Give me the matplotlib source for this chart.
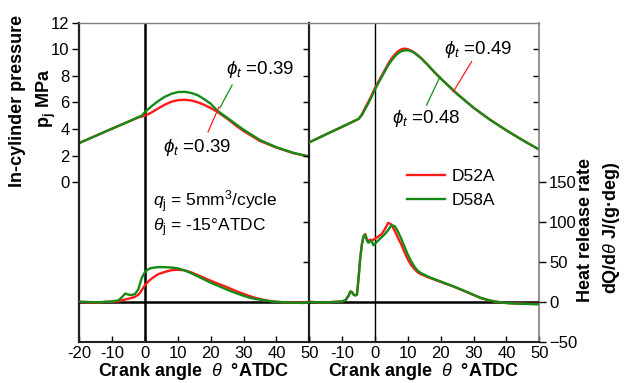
import matplotlib
matplotlib.use('Agg')
import matplotlib.pyplot as plt

plt.rcParams['font.family'] = ['Liberation Sans', 'DejaVu Sans']
plt.rcParams['mathtext.fontset'] = 'custom'
plt.rcParams['mathtext.rm'] = 'Liberation Sans'
plt.rcParams['mathtext.it'] = 'Liberation Sans:italic'
plt.rcParams['mathtext.bf'] = 'Liberation Sans:bold'

# ---------------- data ----------------
# In-cylinder pressure (MPa), left panel (phi_t = 0.39 both)
theta_pL = [-20, -15, -10, -5, -2, -1, 0, 2, 4, 6, 8, 10, 12, 14, 16, 18, 20, 22,
            25, 28, 30, 35, 40, 45, 50]
pL_D52A = [2.95, 3.49, 4.03, 4.56, 4.88, 4.94, 5.0, 5.25, 5.55, 5.83, 6.05, 6.17, 6.2,
           6.15, 6.02, 5.82, 5.58, 5.3, 4.78, 4.2, 3.85, 3.1, 2.6, 2.2, 1.92]
pL_D58A = [2.95, 3.49, 4.03, 4.56, 4.9, 5.0, 5.28, 5.72, 6.1, 6.42, 6.65, 6.78, 6.8,
           6.72, 6.55, 6.25, 5.9, 5.38, 4.85, 4.3, 3.95, 3.17, 2.63, 2.22, 1.92]

# In-cylinder pressure (MPa), right panel
theta_pR = [-20, -15, -10, -5, -4, -3, -2, -1, 0, 1, 2, 3, 4, 5, 6, 7, 8, 9, 10, 11,
            12, 14, 16, 18, 20, 25, 30, 35, 40, 45, 50]
pR_D52A = [3.0, 3.59, 4.17, 4.76, 5.1, 5.6, 6.05, 6.55, 7.1, 7.55, 8.0, 8.45, 8.9, 9.3,
           9.6, 9.85, 10.0, 10.05, 10.0, 9.9, 9.75, 9.35, 8.85, 8.3, 7.8, 6.65, 5.6,
           4.7, 3.9, 3.15, 2.45]
pR_D58A = [3.0, 3.59, 4.17, 4.76, 5.05, 5.5, 5.95, 6.45, 6.98, 7.45, 7.9, 8.35, 8.78,
           9.15, 9.45, 9.7, 9.85, 9.92, 9.92, 9.85, 9.72, 9.33, 8.83, 8.3, 7.8, 6.63,
           5.6, 4.7, 3.9, 3.15, 2.45]

# Heat release rate J/(g.deg), left panel
theta_hL = [-20, -18, -16, -14, -12, -10, -8, -7, -6, -5, -4, -3, -2, -1.5, -1, 0, 1, 2,
            3, 4, 6, 8, 10, 12, 14, 16, 18, 20, 22, 24, 26, 28, 30, 32, 34, 36, 38, 40,
            42, 44, 46, 48, 50]
hL_D52A = [0, -0.5, -1, -1, 0, 0, 0.5, 2, 3, 4, 5, 6.3, 9, 11.5, 14.6, 21, 25.5, 29,
           32, 34.6, 37.5, 39.6, 40.2, 39.5, 37, 33.5, 30, 26.5, 23, 20, 16.5, 13, 10,
           7, 4.5, 2.5, 1, 0, -0.5, -1, -1, -1, -0.5]
hL_D58A = [0, 0, -0.5, -0.5, 0, 0.5, 2, 6, 10.4, 9, 8.5, 10, 16, 23, 30, 37.5, 41,
           42.5, 43, 43.5, 43.5, 43, 42, 39.5, 36, 32, 28, 24, 20.5, 17, 13.5, 10.5, 7.5,
           5, 3.3, 2, 0.8, 0, -0.5, -1, -1, -1.5, -1]

# Heat release rate J/(g.deg), right panel
theta_hR = [-20, -18, -16, -14, -12, -10, -9, -8, -7.5, -7, -6.5, -6, -5.5, -5, -4.5,
            -4, -3.5, -3, -2.5, -2, -1.5, -1, -0.5, 0, 1, 2, 3, 4, 5, 6, 7, 8, 9, 10,
            11, 12, 13, 14, 16, 18, 20, 22, 24, 26, 28, 30, 32, 34, 36, 38, 40, 42, 44,
            46, 48, 50]
hR_D52A = [0, -0.5, -1, -0.5, 0, 0.5, 2, 8, 13, 12, 9, 8, 9, 30, 55, 72, 82, 85, 79,
           75, 78, 77, 78, 79, 82, 85, 91, 99, 97, 89, 80, 72, 62, 53, 46, 41, 37, 34.5,
           31, 28, 25, 22, 19, 15.5, 12, 8.5, 5, 2.5, 0.5, -0.5, -1.5, -2, -2, -2.5,
           -2.5, -2.5]
hR_D58A = [0, -0.5, -1, -0.5, 0, 0.5, 2, 8, 13, 12, 9, 8, 9, 30, 55, 72, 82, 84, 77,
           74, 76, 76, 71, 73, 77, 81, 85, 90, 96, 95, 88, 79, 69, 59, 51, 44, 39, 36,
           32, 28.5, 25.5, 22.3, 19.2, 15.8, 12.3, 8.8, 5.3, 2.8, 0.8, -0.5, -1.5, -2,
           -2.5, -2.5, -3, -3]

x_ticks = [-20, -10, 0, 10, 20, 30, 40, 50]
xlabL = ['-20', '-10', '0', '10', '20', '30', '40', '50']
xlabR = ['', '-10', '0', '10', '20', '30', '40', '50']
p_ticks = [0, 2, 4, 6, 8, 10, 12]
hr_ticks = [-50, 0, 50, 100, 150]
series = ['D52A', 'D58A']
colors = {'D52A': '#ff1a1a', 'D58A': '#168a16'}

# ---------------- figure ----------------
W, H = 628, 383
fig = plt.figure(figsize=(W / 100, H / 100), dpi=100)


def box(x0, y0, x1, y1):
    return [x0 / W, 1 - y1 / H, (x1 - x0) / W, (y1 - y0) / H]


axL = fig.add_axes(box(79.3, 22.7, 309.3, 341.7))
axR = fig.add_axes(box(309.3, 22.7, 539.3, 341.7))
TS = 12
dark = '#222222'
grey = '#808080'

for ax, lab in ((axL, xlabL), (axR, xlabR)):
    ax.set_xlim(-20, 50)
    ax.set_ylim(-12, 12)
    ax.set_xticks(x_ticks)
    ax.set_xticklabels(lab)
    ax.tick_params(axis='x', direction='in', length=4, width=1, labelsize=TS, pad=3,
                   top=False)
    ax.patch.set_visible(False)

lw = 1.7
# pressure curves
axL.plot(theta_pL, pL_D52A, color=colors['D52A'], lw=lw)
axL.plot(theta_pL, pL_D58A, color=colors['D58A'], lw=lw)
axR.plot(theta_pR, pR_D52A, color=colors['D52A'], lw=lw, label=series[0])
axR.plot(theta_pR, pR_D58A, color=colors['D58A'], lw=lw, label=series[1])

# heat release twins
hrL = axL.twinx()
hrR = axR.twinx()
for h in (hrL, hrR):
    h.set_ylim(-50, 350)
    for s in h.spines.values():
        s.set_visible(False)
    h.axhline(0, color='black', lw=1.8, zorder=1)
hrL.plot(theta_hL, hL_D52A, color=colors['D52A'], lw=lw)
hrL.plot(theta_hL, hL_D58A, color=colors['D58A'], lw=lw)
hrR.plot(theta_hR, hR_D52A, color=colors['D52A'], lw=lw)
hrR.plot(theta_hR, hR_D58A, color=colors['D58A'], lw=lw)

# vertical zero lines
axL.axvline(0, color='black', lw=1.8, zorder=1)
axR.axvline(0, color='black', lw=1.0, zorder=1)

# left panel y ticks
axL.set_yticks(p_ticks)
axL.tick_params(axis='y', direction='out', length=5, width=1, labelsize=TS, pad=2,
                right=False)
pL2 = axL.twinx()
pL2.set_ylim(-12, 12)
pL2.set_yticks([0, 2, 4, 6, 8, 10])
pL2.tick_params(axis='y', direction='in', length=4, width=1, labelright=False)
for s in pL2.spines.values():
    s.set_visible(False)
hrL.set_yticks([50, 100])
hrL.tick_params(axis='y', direction='in', length=4, width=1, labelright=False)

# right panel ticks
axR.yaxis.tick_right()
axR.set_yticks([2, 4, 6, 8, 10])
axR.tick_params(axis='y', direction='in', length=4, width=1, labelright=False,
                left=False, labelleft=False)
hrR.set_yticks(hr_ticks)
hrR.tick_params(axis='y', direction='out', length=5, width=1, labelsize=TS, pad=2)

# spines
for ax in (axL, axR):
    ax.spines['top'].set_color(grey)
    ax.spines['top'].set_linewidth(1.0)
    ax.spines['bottom'].set_color(dark)
    ax.spines['bottom'].set_linewidth(1.5)
axL.spines['left'].set_color(dark)
axL.spines['left'].set_linewidth(1.6)
axL.spines['right'].set_color(dark)
axL.spines['right'].set_linewidth(1.6)
axR.spines['left'].set_visible(False)
axR.spines['right'].set_color(grey)
axR.spines['right'].set_linewidth(1.2)

# annotations (left panel)
axL.text(35, 8.5, r'$\phi_t$ =0.39', color='black', fontsize=13.5, ha='center',
         va='center')
axL.plot([26.5, 22.8], [7.3, 5.6], color=colors['D58A'], lw=0.9)
axL.text(16, 2.6, r'$\phi_t$ =0.39', color='black', fontsize=13.5, ha='center',
         va='center')
axL.plot([19.2, 22.5], [3.8, 5.65], color=colors['D52A'], lw=0.9)
axL.text(2.4, -1.45, r'$q_{\rm j}$ = 5mm$^3$/cycle', fontsize=12.5, ha='left',
         va='center')
axL.text(2.4, -3.4, r'$\theta_{\rm j}$ = -15°ATDC', fontsize=12.5, ha='left',
         va='center')

# annotations (right panel)
axR.text(31.4, 9.95, r'$\phi_t$ =0.49', color='black', fontsize=13.5, ha='center',
         va='center')
axR.plot([29.4, 23.8], [9.07, 6.8], color=colors['D52A'], lw=0.9)
axR.text(15.7, 4.8, r'$\phi_t$ =0.48', color='black', fontsize=13.5, ha='center',
         va='center')
axR.plot([15.7, 19.8], [5.8, 7.95], color=colors['D58A'], lw=0.9)

axR.legend(loc='upper left', bbox_to_anchor=((398 - 309.3) / 230, (341.7 - 160) / 319),
           frameon=False, fontsize=12.5, handlelength=2.2, handletextpad=0.4,
           labelspacing=0.5, borderpad=0)

# axis labels
fig.text(18 / W, 1 - 101 / H, 'In-cylinder pressure', rotation=90, fontsize=13,
         fontweight='bold', ha='center', va='center')
fig.text(46 / W, 1 - 98 / H, r'p$_\mathbf{j}$ MPa', rotation=90, fontsize=13,
         fontweight='bold', ha='center', va='center')
fig.text(585 / W, 1 - 230 / H, 'Heat release rate', rotation=90, fontsize=13,
         fontweight='bold', ha='center', va='center')
fig.text(612 / W, 1 - 228 / H, r'dQ/d$\theta$ J/(g·deg)', rotation=90, fontsize=13,
         fontweight='bold', ha='center', va='center')
fig.text(194 / W, 1 - 372 / H, r'Crank angle  $\theta$  °ATDC', fontsize=13,
         fontweight='bold', ha='center', va='center')
fig.text(424 / W, 1 - 372 / H, r'Crank angle  $\theta$  °ATDC', fontsize=13,
         fontweight='bold', ha='center', va='center')

fig.savefig('out.png', dpi=100)
